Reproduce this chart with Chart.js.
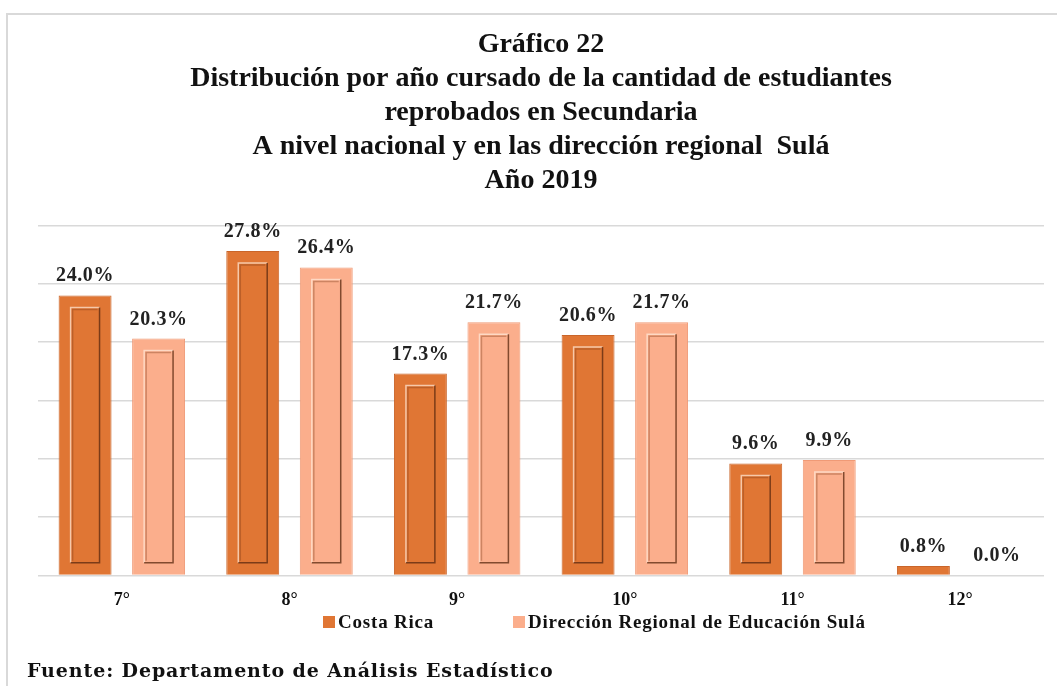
<!DOCTYPE html>
<html>
<head>
<meta charset="utf-8">
<script src="https://cdn.jsdelivr.net/npm/chart.js@4.4.1/dist/chart.umd.min.js"></script>
<style>
  body { margin: 0; background: #fff; }
  #frame { position: absolute; left: 6px; top: 13px; width: 1060px; height: 700px;
           border-top: 2px solid #d9d9d9; border-left: 2px solid #d9d9d9; }
  #wrap { position: absolute; left: 0; top: 0; width: 1057px; height: 686px; }
</style>
</head>
<body>
<div id="frame"></div>
<div id="wrap"><canvas id="chart1"></canvas></div>
<script>
const grados = ["7°", "8°", "9°", "10°", "11°", "12°"];
const costaRica = [24.0, 27.8, 17.3, 20.6, 9.6, 0.8];
const sula = [20.3, 26.4, 21.7, 21.7, 9.9, 0.0];
const titulo = [
  "Gráfico 22",
  "Distribución por año cursado de la cantidad de estudiantes",
  "reprobados en Secundaria",
  "A nivel nacional y en las dirección regional  Sulá",
  "Año 2019"
];
const fuente = "Fuente: Departamento de Análisis Estadístico";

const serif = "'Liberation Serif', 'Times New Roman', serif";

// marco interior de cada barra (efecto biselado) y etiquetas de valor
const barrasPlugin = {
  id: "barras",
  afterDatasetsDraw(chart) {
    const ctx = chart.ctx;
    chart.data.datasets.forEach((ds, i) => {
      const meta = chart.getDatasetMeta(i);
      meta.data.forEach((bar, j) => {
        const p = bar.getProps(["x", "y", "base", "width"], true);
        const left = p.x - p.width / 2;
        const right = p.x + p.width / 2;
        if (p.base - p.y > 30) {
          const l = left + 12, r = right - 12, t = p.y + 12, b = p.base - 12;
          ctx.save();
          ctx.lineWidth = 1.5;
          ctx.strokeStyle = "rgba(255,235,220,0.7)";
          ctx.beginPath();
          ctx.moveTo(l, b); ctx.lineTo(l, t); ctx.lineTo(r, t);
          ctx.stroke();
          ctx.strokeStyle = "rgba(90,40,15,0.75)";
          ctx.beginPath();
          ctx.moveTo(r, t); ctx.lineTo(r, b); ctx.lineTo(l, b);
          ctx.stroke();
          ctx.strokeStyle = "rgba(120,55,20,0.35)";
          ctx.beginPath();
          ctx.moveTo(l + 2, b - 2); ctx.lineTo(l + 2, t + 2); ctx.lineTo(r - 2, t + 2);
          ctx.stroke();
          ctx.restore();
        }
        ctx.save();
        ctx.fillStyle = "#222";
        ctx.font = "bold 20px " + serif;
        ctx.letterSpacing = "0.6px";
        ctx.textAlign = "center";
        ctx.textBaseline = "alphabetic";
        ctx.fillText(ds.data[j].toFixed(1) + "%", p.x, p.y - 14);
        ctx.restore();
      });
    });
  }
};

// leyenda y fuente dibujadas a mano (espaciado como en el original)
const textosPlugin = {
  id: "textos",
  afterDraw(chart) {
    const ctx = chart.ctx;
    const posX = [323, 513];
    ctx.save();
    chart.data.datasets.forEach((ds, i) => {
      ctx.fillStyle = ds.backgroundColor;
      ctx.fillRect(posX[i], 616, 12, 12);
      ctx.fillStyle = "#111";
      ctx.font = "bold 19px " + serif;
      ctx.letterSpacing = "0.8px";
      ctx.textAlign = "left";
      ctx.textBaseline = "alphabetic";
      ctx.fillText(ds.label, posX[i] + 15, 628);
    });
    ctx.font = "bold 19px 'DejaVu Serif', serif";
    ctx.letterSpacing = "0.9px";
    ctx.fillText(fuente, 27, 677);
    ctx.restore();
  }
};

const ctx = document.getElementById("chart1").getContext("2d");
new Chart(ctx, {
  type: "bar",
  data: {
    labels: grados,
    datasets: [
      {
        label: "Costa Rica",
        data: costaRica,
        backgroundColor: "#e07634",
        borderColor: "#c9652a",
        borderWidth: 1,
        categoryPercentage: 0.877,
        barPercentage: 0.72
      },
      {
        label: "Dirección Regional de Educación Sulá",
        data: sula,
        backgroundColor: "#fbae8c",
        borderColor: "#f09a76",
        borderWidth: 1,
        categoryPercentage: 0.877,
        barPercentage: 0.72
      }
    ]
  },
  options: {
    responsive: true,
    maintainAspectRatio: false,
    animation: false,
    layout: { padding: { left: 38, right: 13, top: 0, bottom: 61 } },
    scales: {
      x: {
        grid: { display: false, drawTicks: false },
        border: { display: false },
        ticks: { color: "#111", font: { family: serif, size: 18, weight: "bold" }, padding: 14 }
      },
      y: {
        min: 0,
        max: 30,
        ticks: { display: false, stepSize: 5 },
        border: { display: false },
        grid: { color: "#d9d9d9", drawTicks: false, lineWidth: 1.5 }
      }
    },
    plugins: {
      title: {
        display: true,
        text: titulo,
        color: "#111",
        font: { family: serif, size: 28, weight: "bold", lineHeight: 1.21 },
        padding: { top: 28, bottom: 28 }
      },
      legend: { display: false },
      tooltip: { enabled: false }
    }
  },
  plugins: [barrasPlugin, textosPlugin]
});
</script>
</body>
</html>
